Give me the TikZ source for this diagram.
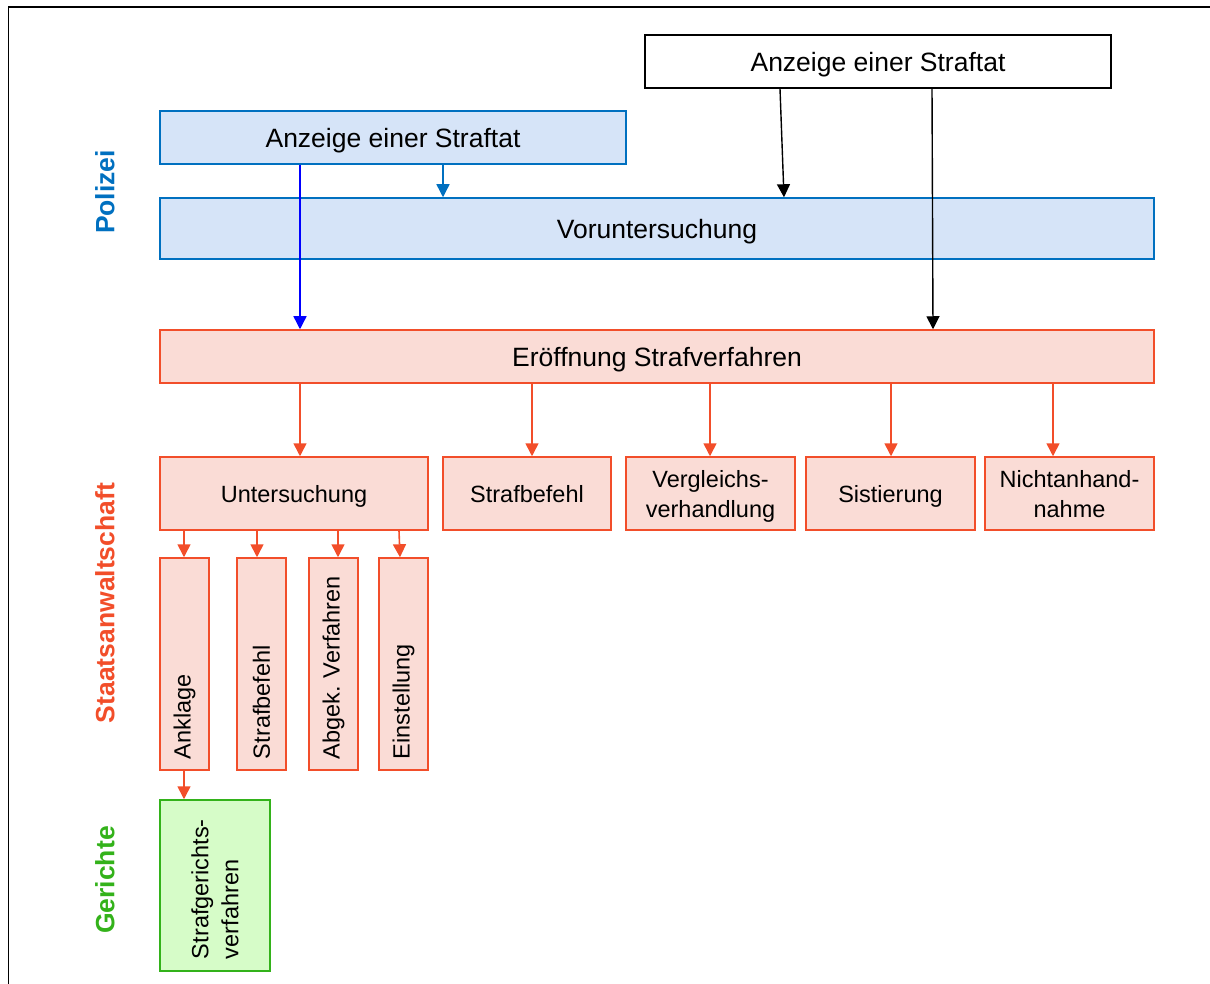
\documentclass[tikz,border=0pt]{standalone}
\usepackage{fontspec}
\setmainfont{Liberation Sans}
\usetikzlibrary{arrows.meta}
\definecolor{polblue}{RGB}{0,112,192}
\definecolor{polfill}{RGB}{214,228,248}
\definecolor{stared}{RGB}{242,78,42}
\definecolor{stafill}{RGB}{250,220,214}
\definecolor{gergreen}{RGB}{51,178,26}
\definecolor{gerfill}{RGB}{214,252,200}
\tikzset{
	box/.style = {
		draw,
		line width=1.5pt,
		inner sep=0pt,
		align=center,
		text depth=0pt,
		font=\fontsize{23.5}{30}\selectfont
	},
	box_top/.style = {
		box,
		draw=black,
		fill=white,
		font=\fontsize{26.5}{32}\selectfont
	},
	box_pol/.style = {
		box,
		draw=polblue,
		fill=polfill,
		font=\fontsize{26.5}{32}\selectfont
	},
	box_sta/.style = {
		box,
		draw=stared,
		fill=stafill
	},
	box_vert/.style = {
		box_sta,
		rotate=90,
		align=left,
		text depth={},
		inner xsep=11pt,
		text width=190pt,
		minimum width=212pt,
		minimum height=49pt
	},
	box_ger/.style = {
		box,
		draw=gergreen,
		fill=gerfill,
		rotate=90,
		align=left,
		text depth={},
		inner xsep=12pt,
		text width=147pt,
		minimum width=171pt,
		minimum height=110pt
	},
	lane/.style = {
		rotate=90,
		font=\fontsize{26.5}{32}\selectfont\bfseries
	},
	arr_black/.style = {->, draw=black, line width=1.4pt},
	arr_pol/.style = {->, draw=polblue, line width=1.4pt},
	arr_blue/.style = {->, draw=blue, line width=1.4pt},
	arr_sta/.style = {->, draw=stared, line width=1.6pt},
}

\begin{document}
\begin{tikzpicture}[x=1pt, y=-1pt, >={Triangle[length=13pt,width=13pt]}]
\useasboundingbox (0,0) rectangle (1210,984);
\draw[line width=1.5pt] (8.5,1000) -- (8.5,7) -- (1230,7);

% lanes
\node[lane, text=polblue] (l_pol) at (105,192) {Polizei};
\node[lane, text=stared] (l_sta) at (105,603) {Staatsanwaltschaft};
\node[lane, text=gergreen] (l_ger) at (105,880) {Gerichte};

% polizei
\node[box_top, minimum width=466pt, minimum height=53pt] (anz_top) at (878,61.5) {Anzeige einer Straftat};
\node[box_pol, minimum width=466pt, minimum height=53pt] (anz_pol) at (393,137.5) {Anzeige einer Straftat};
\node[box_pol, minimum width=994pt, minimum height=61pt] (vorunt) at (657,228.5) {Voruntersuchung};

% staatsanwaltschaft
\node[box_sta, font=\fontsize{26.5}{32}\selectfont, minimum width=994pt, minimum height=53pt] (eroeff) at (657,356.5) {Eröffnung Strafverfahren};
\node[box_sta, minimum width=268pt, minimum height=73pt] (unters) at (294,493.5) {Untersuchung};
\node[box_sta, minimum width=168pt, minimum height=73pt] (strafb) at (527,493.5) {Strafbefehl};
\node[box_sta, minimum width=169pt, minimum height=73pt] (vergl) at (710.5,493.5) {Vergleichs-\\verhandlung};
\node[box_sta, minimum width=169pt, minimum height=73pt] (sist) at (890.5,493.5) {Sistierung};
\node[box_sta, minimum width=169pt, minimum height=73pt] (nicht) at (1069.5,493.5) {Nichtanhand-\\nahme};
\node[box_vert] (anklage) at (184.5,664) {Anklage};
\node[box_vert] (strafb_u) at (261.5,664) {Strafbefehl};
\node[box_vert] (abgek) at (333.5,664) {Abgek.~Verfahren};
\node[box_vert] (einst) at (403.5,664) {Einstellung};

% gerichte
\node[box_ger] (strafger) at (215,885.5) {Strafgerichts-\\verfahren};

% arrows
\draw[arr_black] (anz_top.south -| 780,0) -- (vorunt.north -| 784,0);
\draw[arr_black] (anz_top.south -| 932,0) -- (eroeff.north -| 933,0);
\draw[arr_pol] (anz_pol.south -| 443,0) -- (vorunt.north -| 443,0);
\draw[arr_blue] (anz_pol.south -| 300,0) -- (eroeff.north -| 300,0);
\draw[arr_sta] (eroeff.south -| 300,0) -- (unters.north -| 300,0);
\draw[arr_sta] (eroeff.south -| 532,0) -- (strafb.north -| 532,0);
\draw[arr_sta] (eroeff.south -| 710,0) -- (vergl.north -| 710,0);
\draw[arr_sta] (eroeff.south -| 891,0) -- (sist.north -| 891,0);
\draw[arr_sta] (eroeff.south -| 1053,0) -- (nicht.north -| 1053,0);
\draw[arr_sta] (unters.south -| 184,0) -- (anklage.east -| 184,0);
\draw[arr_sta] (unters.south -| 257,0) -- (strafb_u.east -| 257,0);
\draw[arr_sta] (unters.south -| 338,0) -- (abgek.east -| 338,0);
\draw[arr_sta] (unters.south -| 399,0) -- (einst.east -| 400,0);
\draw[arr_sta] (anklage.west -| 184,0) -- (strafger.east -| 184,0);
\end{tikzpicture}
\end{document}
